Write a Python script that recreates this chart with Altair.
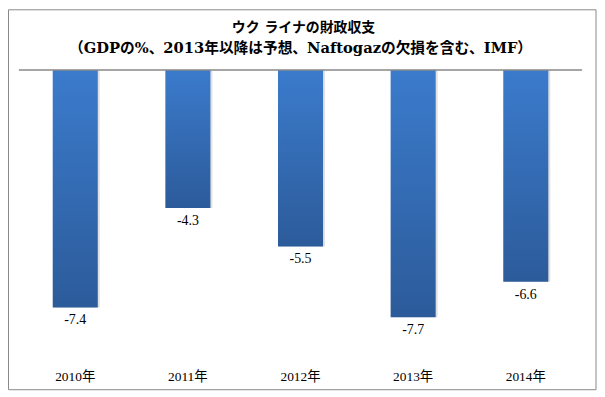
import altair as alt
import pandas as pd

years = ["2010年", "2011年", "2012年", "2013年", "2014年"]
values = [-7.4, -4.3, -5.5, -7.7, -6.6]
title_lines = ["ウク ライナの財政収支", "（GDPの%、2013年以降は予想、Naftogazの欠損を含む、IMF）"]

FONT = "Liberation Serif, Noto Sans CJK JP"
TFONT = "DejaVu Serif, Noto Sans CJK JP"

df = pd.DataFrame({"year": years, "value": values, "label": [f"{v:.1f}" for v in values]})
one = pd.DataFrame({"a": [0]})
t1 = pd.DataFrame({"t": [title_lines[0]]})
t2 = pd.DataFrame({"t": [title_lines[1]]})

W, H = 567, 291

xenc = alt.X("year:N", sort=years, title=None,
             scale=alt.Scale(paddingInner=0.6, paddingOuter=0.3),
             axis=alt.Axis(labelAngle=0, ticks=False, domain=False, labelPadding=11,
                           labelFont=FONT, labelFontSize=13.5, labelColor="#000"))
yenc = alt.Y("value:Q", scale=alt.Scale(domain=[-9, 0], nice=False), axis=None)

base = alt.Chart(df)

shadow = base.mark_bar(color="#000", opacity=0.12, xOffset=2, x2Offset=2, y2Offset=3).encode(
    x=xenc, y=yenc)

grad = alt.LinearGradient(
    gradient="linear", x1=0, y1=0, x2=0, y2=1,
    stops=[alt.GradientStop(color="#3B7BCC", offset=0),
           alt.GradientStop(color="#2C5B9A", offset=1)])
bars = base.mark_bar(color=grad).encode(x=xenc, y=yenc)

labels = base.mark_text(baseline="top", dy=6, font=FONT, fontSize=14, color="#000").encode(
    x=xenc, y=yenc, text="label:N")

zero = alt.Chart(one).mark_rule(color="#888", strokeWidth=1.5).encode(
    x=alt.value(0), x2=alt.value(W), y=alt.value(0))

frame = alt.Chart(one).mark_rect(fill="#fff", fillOpacity=0, stroke="#888", strokeWidth=1).encode(
    x=alt.value(-10.5), x2=alt.value(581), y=alt.value(-60.5), y2=alt.value(322))

title1 = alt.Chart(t1).mark_text(font=TFONT, fontSize=14, fontWeight="bold", color="#000").encode(
    text="t:N", x=alt.value(W / 2 + 3), y=alt.value(-42))
title2 = alt.Chart(t2).mark_text(font=TFONT, fontSize=14.8, fontWeight="bold", color="#000").encode(
    text="t:N", x=alt.value(W / 2), y=alt.value(-21))

chart = alt.layer(shadow, bars, zero, labels, frame, title1, title2).properties(
    width=W, height=H,
    autosize=alt.AutoSizeParams(type="none"),
    padding={"left": 11, "top": 61, "right": 15, "bottom": 32},
).configure_view(stroke=None)

chart.save("out.html", embed_options={"renderer": "svg", "actions": False})
